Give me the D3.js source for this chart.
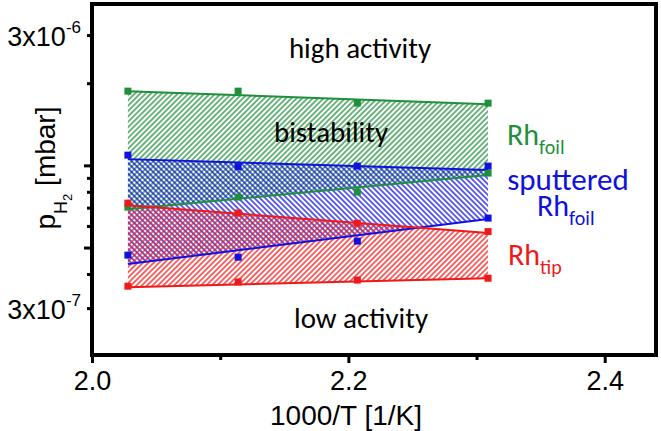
<!DOCTYPE html>
<html>
<head>
<meta charset="utf-8">
<script src="https://cdn.jsdelivr.net/npm/d3@7"></script>
<style>
  body { margin: 0; background: #fff; }
  svg { display: block; }
</style>
</head>
<body>
<div id="chart"></div>
<script>
// measured points (1000/T and p_H2 in mbar)
var invT = [2.028, 2.114, 2.207, 2.309];
var foilHigh = [1.87e-6, 1.87e-6, 1.69e-6, 1.69e-6];
var foilLow = [7.03e-7, 7.65e-7, 7.98e-7, 9.37e-7];
var sputHigh = [1.09e-6, 9.89e-7, 9.94e-7, 9.94e-7];
var sputLow = [4.69e-7, 4.61e-7, 5.28e-7, 6.41e-7];
var tipHigh = [7.27e-7, 6.69e-7, 6.14e-7, 5.72e-7];
var tipLow = [3.61e-7, 3.74e-7, 3.80e-7, 3.86e-7];

// fitted borders of the bistable regions, at first and last 1000/T
var fitX = [2.028, 2.309];
var foilHighFit = [1.87e-6, 1.676e-6];
var foilLowFit = [6.91e-7, 9.21e-7];
var sputHighFit = [1.054e-6, 9.61e-7];
var sputLowFit = [4.35e-7, 6.36e-7];
var tipHighFit = [7.15e-7, 5.65e-7];
var tipLowFit = [3.58e-7, 3.86e-7];

var xTicks = [2.0, 2.2, 2.4];
var xMinor = [2.1, 2.3];
var yMajor = [1e-6, 5e-7];
var yMinor = [3e-6, 2e-6, 9e-7, 8e-7, 7e-7, 6e-7, 4e-7, 3e-7];
var yLabels = [{v: 3e-6, exp: "-6"}, {v: 3e-7, exp: "-7"}];

var green = "#1f8f3c", blue = "#1010e0", red = "#f01818";

var width = 661, height = 431;
var plotL = 92, plotR = 656, plotT = 4, plotB = 355;

var x = d3.scaleLinear().domain([2.0, 2.44]).range([plotL, plotR]);
var y = d3.scaleLog().domain([2.02e-7, 3.9e-6]).range([plotB, plotT]);

var svg = d3.select("#chart").append("svg")
    .attr("width", width)
    .attr("height", height)
    .attr("xmlns", "http://www.w3.org/2000/svg");

// hatch patterns
var defs = svg.append("defs");
function hatch(id, color, angle) {
  var p = defs.append("pattern")
      .attr("id", id)
      .attr("patternUnits", "userSpaceOnUse")
      .attr("width", 3.8)
      .attr("height", 3.8)
      .attr("patternTransform", "rotate(" + angle + ")");
  p.append("line")
      .attr("x1", 1.9).attr("y1", 0)
      .attr("x2", 1.9).attr("y2", 3.8)
      .attr("stroke", color)
      .attr("stroke-width", 1.3);
}
hatch("hGreen", green, 45);
hatch("hBlue", blue, -45);
hatch("hRed", red, 45);

var systems = [
  {hi: foilHigh, lo: foilLow, hiFit: foilHighFit, loFit: foilLowFit, color: green, pat: "hGreen"},
  {hi: sputHigh, lo: sputLow, hiFit: sputHighFit, loFit: sputLowFit, color: blue, pat: "hBlue"},
  {hi: tipHigh, lo: tipLow, hiFit: tipHighFit, loFit: tipLowFit, color: red, pat: "hRed"}
];

var area = d3.area()
    .x(function(d) { return x(d[0]); })
    .y0(function(d) { return y(d[1]); })
    .y1(function(d) { return y(d[2]); });

var line = d3.line()
    .x(function(d) { return x(d[0]); })
    .y(function(d) { return y(d[1]); });

// bands
systems.forEach(function(s) {
  var pts = fitX.map(function(v, i) { return [v, s.loFit[i], s.hiFit[i]]; });
  svg.append("path")
      .attr("d", area(pts))
      .attr("fill", "url(#" + s.pat + ")");
});

// fit lines
systems.forEach(function(s) {
  [s.hiFit, s.loFit].forEach(function(f) {
    svg.append("path")
        .attr("d", line(fitX.map(function(v, i) { return [v, f[i]]; })))
        .attr("fill", "none")
        .attr("stroke", s.color)
        .attr("stroke-width", 2);
  });
});

// markers
var ms = 7;
systems.forEach(function(s) {
  [s.hi, s.lo].forEach(function(vals) {
    svg.append("g").selectAll("rect")
        .data(vals)
        .enter().append("rect")
        .attr("x", function(d, i) { return x(invT[i]) - ms / 2; })
        .attr("y", function(d) { return y(d) - ms / 2; })
        .attr("width", ms)
        .attr("height", ms)
        .attr("fill", s.color);
  });
});

// axes
function styleAxis(g) {
  g.select(".domain").remove();
  g.selectAll(".tick line").attr("stroke", "#000").attr("stroke-width", 3);
}

svg.append("g")
    .attr("transform", "translate(" + plotL + ",0)")
    .call(d3.axisLeft(y).tickValues(yMajor).tickSize(8).tickFormat(""))
    .call(styleAxis);
svg.append("g")
    .attr("transform", "translate(" + plotL + ",0)")
    .call(d3.axisLeft(y).tickValues(yMinor).tickSize(5).tickFormat(""))
    .call(styleAxis);

svg.append("g")
    .attr("transform", "translate(0," + plotB + ")")
    .call(d3.axisBottom(x).tickValues(xTicks).tickSize(8).tickPadding(6).tickFormat(d3.format(".1f")))
    .call(styleAxis)
    .selectAll("text")
    .attr("font-family", "'Liberation Sans', Arial, sans-serif")
    .attr("font-size", 27)
    .attr("fill", "#000")
    .attr("dy", null)
    .attr("y", 35);
svg.append("g")
    .attr("transform", "translate(0," + plotB + ")")
    .call(d3.axisBottom(x).tickValues(xMinor).tickSize(5).tickFormat(""))
    .call(styleAxis);

// y tick labels with exponent
yLabels.forEach(function(l) {
  var t = svg.append("text")
      .attr("x", 81)
      .attr("y", y(l.v) + 11)
      .attr("text-anchor", "end")
      .attr("font-family", "'Liberation Sans', Arial, sans-serif")
      .attr("font-size", 27)
      .attr("fill", "#000");
  t.append("tspan").text("3x10");
  t.append("tspan").attr("dy", -13).attr("font-size", 17).text(l.exp);
});

// frame
svg.append("rect")
    .attr("x", plotL)
    .attr("y", plotT)
    .attr("width", plotR - plotL)
    .attr("height", plotB - plotT)
    .attr("fill", "none")
    .attr("stroke", "#000")
    .attr("stroke-width", 4);

// axis titles
svg.append("text")
    .attr("x", 346)
    .attr("y", 425)
    .attr("text-anchor", "middle")
    .attr("font-family", "'Liberation Sans', Arial, sans-serif")
    .attr("font-size", 28)
    .attr("fill", "#000")
    .text("1000/T [1/K]");

var yt = svg.append("text")
    .attr("transform", "translate(55,168) rotate(-90)")
    .attr("text-anchor", "middle")
    .attr("font-family", "'Liberation Sans', Arial, sans-serif")
    .attr("font-size", 28)
    .attr("fill", "#000");
yt.append("tspan").text("p");
yt.append("tspan").attr("dy", 12).attr("font-size", 18).text("H");
yt.append("tspan").attr("dy", 5).attr("font-size", 13).text("2");
yt.append("tspan").attr("dy", -17).text(" [mbar]");

// region labels
var calibri = "Carlito, Lato, 'Open Sans', sans-serif";
function label(tx, ty, str, color, size) {
  return svg.append("text")
      .attr("x", tx).attr("y", ty)
      .attr("text-anchor", "middle")
      .attr("font-family", calibri)
      .attr("font-size", size || 29)
      .attr("fill", color)
      .text(str);
}
label(360, 58, "high activity", "#000");
label(331, 142, "bistability", "#000");
label(361, 328, "low activity", "#000");

function rhLabel(tx, ty, sub, color) {
  var t = svg.append("text")
      .attr("x", tx).attr("y", ty)
      .attr("font-family", calibri)
      .attr("font-size", 30)
      .attr("fill", color);
  t.append("tspan").text("Rh");
  t.append("tspan").attr("dy", 9).attr("font-size", 20).text(sub);
  return t;
}
rhLabel(507, 145, "foil", green);
label(568, 190, "sputtered", blue, 31);
rhLabel(537, 216, "foil", blue);
rhLabel(508, 265, "tip", red);
</script>
</body>
</html>
